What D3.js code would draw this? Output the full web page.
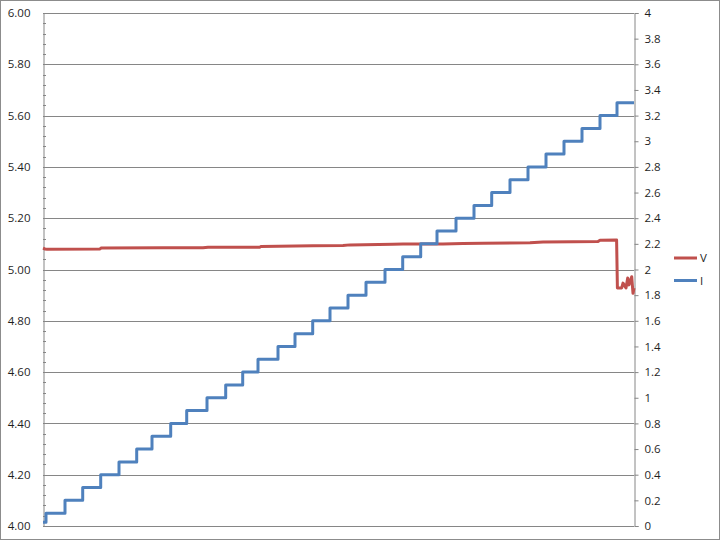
<!DOCTYPE html>
<html><head><meta charset="utf-8">
<script src="https://cdn.jsdelivr.net/npm/d3@7"></script>
<style>body{margin:0;background:#fff}svg{display:block}text{font-family:"Open Sans","Liberation Sans",sans-serif}</style>
</head><body><svg id="c" width="720" height="540"></svg>
<script>
// ---- data ----
const seriesNames = ["V", "I"];
// current (I, right axis): step start times and levels
const iTimes  = [0, 3, 22, 39.7, 57.7, 76, 93.7, 109, 127.7, 143.7, 164, 182.7, 199.7, 215, 235, 252, 269.7, 287, 305, 323, 342, 359.7, 377.7, 394, 413, 431, 448.7, 467, 485, 503, 521, 539, 557, 574, 591];
const iValues = [0.03, 0.1, 0.2, 0.3, 0.4, 0.5, 0.6, 0.7, 0.8, 0.9, 1.0, 1.1, 1.2, 1.3, 1.4, 1.5, 1.6, 1.7, 1.8, 1.9, 2.0, 2.1, 2.2, 2.3, 2.4, 2.5, 2.6, 2.7, 2.8, 2.9, 3.0, 3.1, 3.2, 3.3, 3.3];
// voltage (V, left axis)
const vTimes  = [0, 2, 4, 57, 58, 120, 160, 165, 217, 218, 270, 300, 307, 350, 360, 400, 420, 440, 487, 500, 530, 555, 557, 573.6, 574.4, 577, 578.7, 580, 583, 584.7, 586, 588.7, 590, 591];
const vValues = [5.083, 5.080, 5.079, 5.080, 5.084, 5.085, 5.085, 5.087, 5.087, 5.090, 5.093, 5.094, 5.096, 5.098, 5.099, 5.099, 5.101, 5.102, 5.104, 5.107, 5.108, 5.109, 5.114, 5.115, 4.928, 4.928, 4.928, 4.947, 4.928, 4.967, 4.940, 4.972, 4.907, 4.928];
const leftTicks  = [4.00, 4.20, 4.40, 4.60, 4.80, 5.00, 5.20, 5.40, 5.60, 5.80, 6.00];
const rightTicks = [0, 0.2, 0.4, 0.6, 0.8, 1, 1.2, 1.4, 1.6, 1.8, 2, 2.2, 2.4, 2.6, 2.8, 3, 3.2, 3.4, 3.6, 3.8, 4];
const colors = {V: "#C0504D", I: "#4F81BD"};

// ---- chart ----
const svg = d3.select("#c");
const L = 43, R = 634, T = 13, B = 526;
const x  = d3.scaleLinear().domain([0, 591]).range([L, R]);
const yL = d3.scaleLinear().domain([4, 6]).range([B, T]);
const yR = d3.scaleLinear().domain([0, 4]).range([B, T]);
const grid = "#868686";

svg.append("rect").attr("x",0.5).attr("y",0.5).attr("width",719).attr("height",539)
  .attr("fill","none").attr("stroke","#8c8c8c");

// gridlines
svg.append("g").selectAll("line").data(leftTicks).join("line")
  .attr("x1", L).attr("x2", R)
  .attr("y1", d => Math.round(yL(d)) + 0.5).attr("y2", d => Math.round(yL(d)) + 0.5)
  .attr("stroke", grid).attr("stroke-width", 1);

// left axis
const gl = svg.append("g").attr("transform", `translate(${L + 0.5},0)`)
  .call(d3.axisLeft(yL).tickValues(leftTicks).tickFormat(d => d.toFixed(2)).tickSize(0).tickPadding(13));
gl.select(".domain").attr("stroke", grid);
gl.selectAll("text").attr("font-size", 11.5).attr("fill", "#1f1f1f");
const minor = d3.range(0, 51).map(i => 4 + i * 0.04);
svg.append("g").selectAll("line").data(minor).join("line")
  .attr("x1", L).attr("x2", L + 3)
  .attr("y1", d => Math.round(yL(d)) + 0.5).attr("y2", d => Math.round(yL(d)) + 0.5)
  .attr("stroke", grid);

// right axis
const gr = svg.append("g").attr("transform", `translate(${R + 0.5},0)`)
  .call(d3.axisRight(yR).tickValues(rightTicks).tickFormat(d => String(+d.toFixed(1))).tickSize(4).tickPadding(6));
gr.select(".domain").attr("stroke", grid);
gr.selectAll(".tick line").attr("stroke", grid);
gr.selectAll("text").attr("font-size", 11.5).attr("fill", "#1f1f1f");

// bottom axis line
svg.append("line").attr("x1", L).attr("x2", R).attr("y1", B + 0.5).attr("y2", B + 0.5).attr("stroke", grid);

// series
const vData = vTimes.map((t, i) => [t, vValues[i]]);
const iData = iTimes.map((t, i) => [t, iValues[i]]);
svg.append("path").datum(vData)
  .attr("d", d3.line().x(d => x(d[0])).y(d => yL(d[1])))
  .attr("fill", "none").attr("stroke", colors.V).attr("stroke-width", 3).attr("stroke-linejoin", "round");
svg.append("path").datum(iData)
  .attr("d", d3.line().curve(d3.curveStepAfter).x(d => x(d[0])).y(d => yR(d[1])))
  .attr("fill", "none").attr("stroke", colors.I).attr("stroke-width", 3).attr("stroke-linejoin", "round");

// legend
const leg = svg.append("g");
seriesNames.forEach((n, i) => {
  const yy = 258 + i * 22.5;
  leg.append("line").attr("x1", 674).attr("x2", 697).attr("y1", yy).attr("y2", yy)
    .attr("stroke", colors[n]).attr("stroke-width", 3);
  leg.append("text").attr("x", 700).attr("y", yy + 4).attr("font-size", 11.5).attr("fill", "#1f1f1f").text(n);
});
</script></body></html>
